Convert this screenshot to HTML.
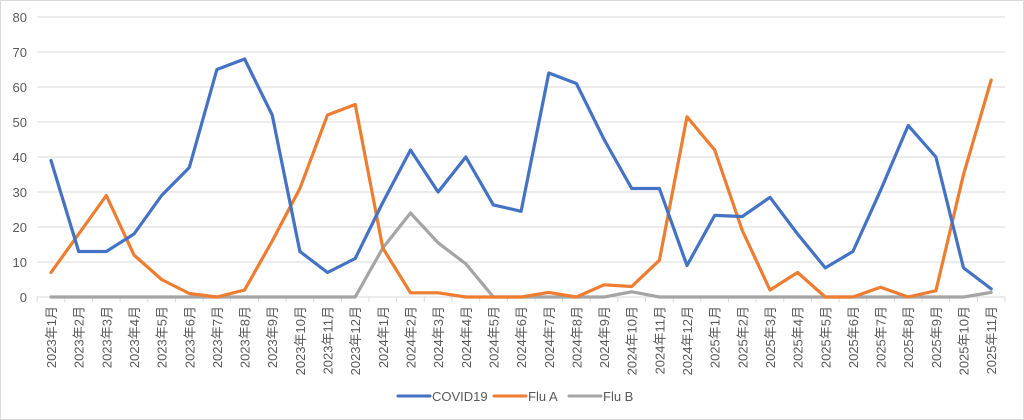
<!DOCTYPE html>
<html><head><meta charset="utf-8"><style>
html,body{margin:0;padding:0;background:#fff}
svg{display:block}
text{font-family:"Liberation Sans","Noto Sans CJK JP",sans-serif;fill:#595959}
</style></head><body>
<svg id="c" width="1024" height="420" xmlns="http://www.w3.org/2000/svg">
<rect x="0.5" y="0.5" width="1023" height="419" fill="#fff" stroke="#d9d9d9"/>
<g id="g"></g>
</svg>
<script>
const ns="http://www.w3.org/2000/svg",g=document.getElementById('g');
function el(t,a,txt){const e=document.createElementNS(ns,t);for(const k in a)e.setAttribute(k,a[k]);if(txt!==undefined)e.textContent=txt;g.appendChild(e);return e;}
const L=37.2,R=1005,Y0=297,S=3.5,W=(R-L)/35;
for(let v=10;v<=80;v+=10){const y=Y0-v*S;el('line',{x1:L,x2:R,y1:y,y2:y,stroke:'#d9d9d9','stroke-width':1});}
for(let v=0;v<=80;v+=10){el('text',{x:27,y:Y0-v*S+5,'text-anchor':'end','font-size':13},v);}
el('line',{x1:L,x2:R,y1:Y0,y2:Y0,stroke:'#d9d9d9','stroke-width':1});
for(let i=0;i<=35;i++){const x=L+i*W;el('line',{x1:x,x2:x,y1:Y0,y2:Y0+5,stroke:'#d9d9d9'});}
const labs=[];for(let i=0;i<35;i++){const y=2023+Math.floor(i/12),m=i%12+1;labs.push(y+'年'+m+'月');}
labs.forEach((s,i)=>{const x=L+(i+0.5)*W+5;el('text',{x:x,y:306,'text-anchor':'end','font-size':13,transform:`rotate(-90 ${x} 306)`},s);});
const cov=[39,13,13,18,29,37,65,68,52,13,7,11,27,42,30,40,26.3,24.5,64,61,45,31,31,9,23.3,23,28.5,18,8.3,13,30.5,49,40,8.3,2.3];
const fa=[7,18,29,12,5,1,0,2,16,31,52,55,14,1.2,1.2,0,0,0,1.3,0,3.5,3,10.5,51.5,42,19,2,7,0,0,2.8,0,1.8,35,62];
const fb=[0,0,0,0,0,0,0,0,0,0,0,0,14,24,15.5,9.5,0,0,0,0,0,1.5,0,0,0,0,0,0,0,0,0,0,0,0,1.3];
function line(d,c){el('polyline',{points:d.map((v,i)=>(L+(i+0.5)*W).toFixed(1)+','+(Y0-v*S).toFixed(1)).join(' '),fill:'none',stroke:c,'stroke-width':3.2,'stroke-linejoin':'round','stroke-linecap':'round'});}
line(fb,'#a5a5a5');line(fa,'#ed7d31');line(cov,'#4472c4');
[[398,'#4472c4','COVID19'],[494,'#ed7d31','Flu A'],[569,'#a5a5a5','Flu B']].forEach(([x,c,t])=>{el('line',{x1:x,x2:x+32,y1:396,y2:396,stroke:c,'stroke-width':3,'stroke-linecap':'round'});el('text',{x:x+34,y:401,'font-size':13},t);});
</script>
</body></html>
